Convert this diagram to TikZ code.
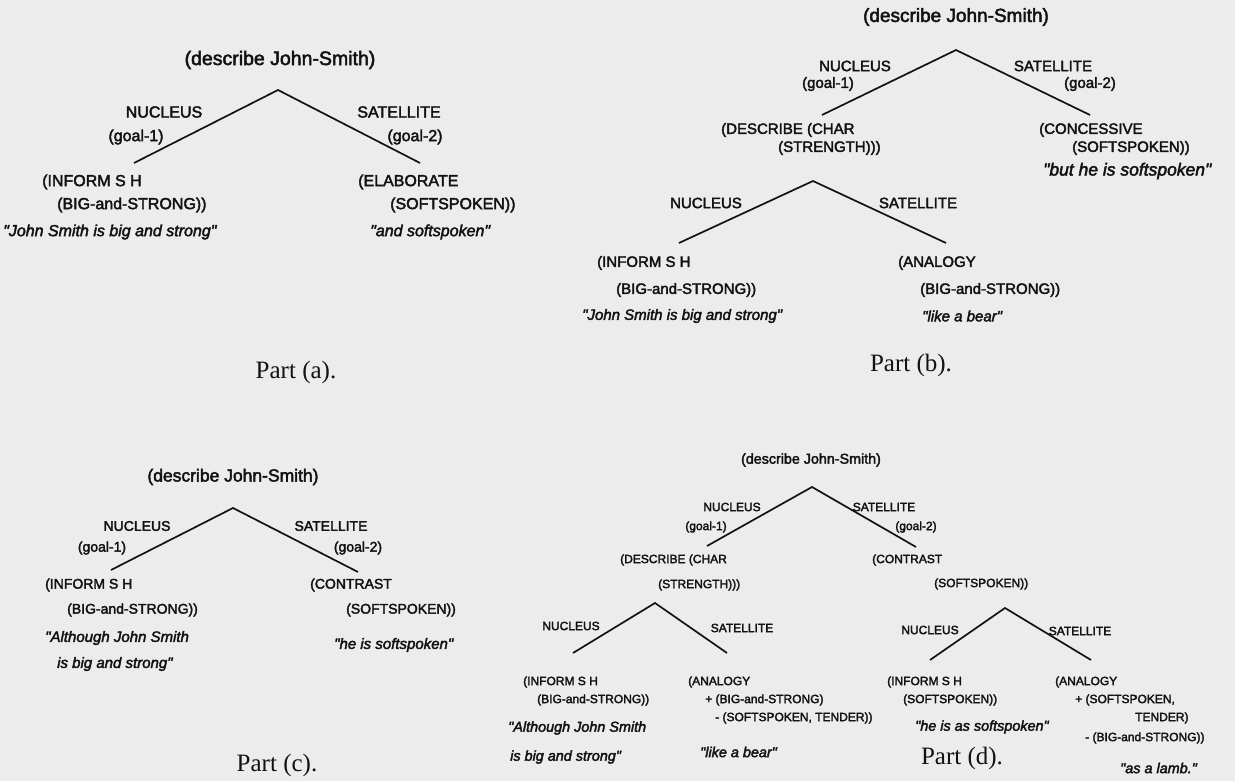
\documentclass[tikz,border=0pt]{standalone}
\usepackage{fontspec}
\setmainfont{Liberation Serif}
\newfontfamily\hel[FakeBold=2.5]{Liberation Sans}
\definecolor{ink}{HTML}{121212}
\definecolor{page}{HTML}{ECECEC}
\begin{document}
\begin{tikzpicture}[x=1pt,y=-1pt,
  t/.style={inner sep=0pt,text=ink},
  ha/.style={t,font=\hel\fontsize{19.5}{22}\selectfont},
  la/.style={t,font=\hel\fontsize{16}{18}\selectfont},
  qa/.style={t,font=\hel\itshape\fontsize{16}{18}\selectfont},
  hb/.style={t,font=\hel\fontsize{19}{21}\selectfont},
  lb/.style={t,font=\hel\fontsize{15}{17}\selectfont},
  qb/.style={t,font=\hel\itshape\fontsize{15}{17}\selectfont},
  hc/.style={t,font=\hel\fontsize{17.5}{19}\selectfont},
  lc/.style={t,font=\hel\fontsize{14}{16}\selectfont},
  qc/.style={t,font=\hel\itshape\fontsize{15}{17}\selectfont},
  hd/.style={t,font=\hel\fontsize{14.3}{16}\selectfont},
  ld/.style={t,font=\hel\fontsize{12}{14}\selectfont},
  qd/.style={t,font=\hel\itshape\fontsize{14.4}{16}\selectfont},
  pt/.style={t,font=\fontsize{25}{28}\selectfont},
  br/.style={draw=ink,line width=1.7pt}]
\fill[page] (0,0) rectangle (1235,781);
\useasboundingbox (0,0) rectangle (1235,781);
% ---------------- Part (a)
\node[ha] (aH) at (280,60) {(describe John-Smith)};
\coordinate (aT) at (278,90);
\coordinate (aL) at (134,163);
\coordinate (aR) at (420,163);
\draw[br] (aL) -- (aT) -- (aR);
\node[la] (aN) at (164,112) {NUCLEUS};
\node[la] (aG1) at (136,137) {(goal-1)};
\node[la] (aS) at (399,112) {SATELLITE};
\node[la] (aG2) at (415,137) {(goal-2)};
\node[la,anchor=west] (aI1) at (42,182) {(INFORM S H};
\node[la,anchor=west] (aI2) at (57,205) {(BIG-and-STRONG))};
\node[la,anchor=west] (aE1) at (358,182) {(ELABORATE};
\node[la,anchor=west] (aE2) at (390,205) {(SOFTSPOKEN))};
\node[qa,anchor=west] (aQ1) at (3,232) {"John Smith is big and strong"};
\node[qa,anchor=west] (aQ2) at (370,232) {"and softspoken"};
\node[pt] (aP) at (296,372) {Part (a).};
% ---------------- Part (b)
\node[hb] (bH) at (956,17) {(describe John-Smith)};
\coordinate (bT) at (956,50);
\coordinate (bL) at (822,115);
\coordinate (bR) at (1090,115);
\draw[br] (bL) -- (bT) -- (bR);
\node[lb] (bN) at (855,66) {NUCLEUS};
\node[lb] (bG1) at (828,84) {(goal-1)};
\node[lb] (bS) at (1053,66) {SATELLITE};
\node[lb] (bG2) at (1090,84) {(goal-2)};
\node[lb,anchor=west] (bD1) at (721,130) {(DESCRIBE (CHAR};
\node[lb,anchor=west] (bD2) at (778,148) {(STRENGTH)))};
\node[lb,anchor=west] (bC1) at (1039,130) {(CONCESSIVE};
\node[lb,anchor=west] (bC2) at (1072,148) {(SOFTSPOKEN))};
\node[qb,anchor=west,font=\hel\itshape\fontsize{17.5}{19}\selectfont] (bC3) at (1043,171) {"but he is softspoken"};
\coordinate (bT2) at (813,181);
\coordinate (bL2) at (679,243);
\coordinate (bR2) at (946,243);
\draw[br] (bL2) -- (bT2) -- (bR2);
\node[lb] (bN2) at (706,203) {NUCLEUS};
\node[lb] (bS2) at (918,203) {SATELLITE};
\node[lb,anchor=west] (bI1) at (597,263) {(INFORM S H};
\node[lb,anchor=west] (bI2) at (616,290) {(BIG-and-STRONG))};
\node[qb,anchor=west] (bI3) at (582,316) {"John Smith is big and strong"};
\node[lb,anchor=west] (bA1) at (898,263) {(ANALOGY};
\node[lb,anchor=west] (bA2) at (920,290) {(BIG-and-STRONG))};
\node[qb,anchor=west] (bA3) at (922,316) {"like a bear"};
\node[pt] (bP) at (911,365) {Part (b).};
% ---------------- Part (c)
\node[hc] (cH) at (233,477) {(describe John-Smith)};
\coordinate (cT) at (233,508);
\coordinate (cL) at (111,570);
\coordinate (cR) at (358,572);
\draw[br] (cL) -- (cT) -- (cR);
\node[lc] (cN) at (137,526) {NUCLEUS};
\node[lc] (cG1) at (102,548) {(goal-1)};
\node[lc] (cS) at (331,526) {SATELLITE};
\node[lc] (cG2) at (358,548) {(goal-2)};
\node[lc,anchor=west] (cI1) at (45,585) {(INFORM S H};
\node[lc,anchor=west] (cI2) at (67,610) {(BIG-and-STRONG))};
\node[qc,anchor=west] (cI3) at (45,638) {"Although John Smith};
\node[qc,anchor=west] (cI4) at (57,664) {is big and strong"};
\node[lc,anchor=west] (cK1) at (310,585) {(CONTRAST};
\node[lc,anchor=west] (cK2) at (346,610) {(SOFTSPOKEN))};
\node[qc,anchor=west] (cK3) at (334,645) {"he is softspoken"};
\node[pt] (cP) at (277,765) {Part (c).};
% ---------------- Part (d)
\node[hd] (dH) at (811,460) {(describe John-Smith)};
\coordinate (dT) at (812,487);
\coordinate (dL) at (707,546);
\coordinate (dR) at (916,547);
\draw[br] (dL) -- (dT) -- (dR);
\node[ld] (dN) at (732,507) {NUCLEUS};
\node[ld] (dG1) at (706,527) {(goal-1)};
\node[ld] (dS) at (884,507) {SATELLITE};
\node[ld] (dG2) at (916,527) {(goal-2)};
\node[ld,anchor=west] (dD1) at (620,560) {(DESCRIBE (CHAR};
\node[ld,anchor=west] (dD2) at (658,585) {(STRENGTH)))};
\node[ld,anchor=west] (dK1) at (872,560) {(CONTRAST};
\node[ld,anchor=west] (dK2) at (934,584) {(SOFTSPOKEN))};
% left subtree
\coordinate (dT2) at (655,603);
\coordinate (dL2) at (573,653);
\coordinate (dR2) at (727,653);
\draw[br] (dL2) -- (dT2) -- (dR2);
\node[ld] (dN2) at (571,626) {NUCLEUS};
\node[ld] (dS2) at (742,628) {SATELLITE};
\node[ld,anchor=west] (dI1) at (523,682) {(INFORM S H};
\node[ld,anchor=west] (dI2) at (537,700) {(BIG-and-STRONG))};
\node[qd,anchor=west] (dI3) at (508,728) {"Although John Smith};
\node[qd,anchor=west] (dI4) at (510,757) {is big and strong"};
\node[ld,anchor=west] (dA1) at (688,682) {(ANALOGY};
\node[ld,anchor=west] (dA2) at (705,700) {+ (BIG-and-STRONG)};
\node[ld,anchor=west] (dA3) at (715,718) {- (SOFTSPOKEN, TENDER))};
\node[qd,anchor=west] (dA4) at (700,752) {"like a bear"};
% right subtree
\coordinate (dT3) at (1005,608);
\coordinate (dL3) at (930,660);
\coordinate (dR3) at (1091,660);
\draw[br] (dL3) -- (dT3) -- (dR3);
\node[ld] (dN3) at (930,630) {NUCLEUS};
\node[ld] (dS3) at (1080,631) {SATELLITE};
\node[ld,anchor=west] (dJ1) at (887,682) {(INFORM S H};
\node[ld,anchor=west] (dJ2) at (903,700) {(SOFTSPOKEN))};
\node[qd,anchor=west] (dJ3) at (915,727) {"he is as softspoken"};
\node[ld,anchor=west] (dB1) at (1055,682) {(ANALOGY};
\node[ld,anchor=west] (dB2) at (1075,700) {+ (SOFTSPOKEN,};
\node[ld,anchor=west] (dB3) at (1135,718) {TENDER)};
\node[ld,anchor=west] (dB4) at (1085,738) {- (BIG-and-STRONG))};
\node[qd,anchor=west] (dB5) at (1120,768) {"as a lamb."};
\node[pt] (dP) at (962,758) {Part (d).};
\end{tikzpicture}
\end{document}
